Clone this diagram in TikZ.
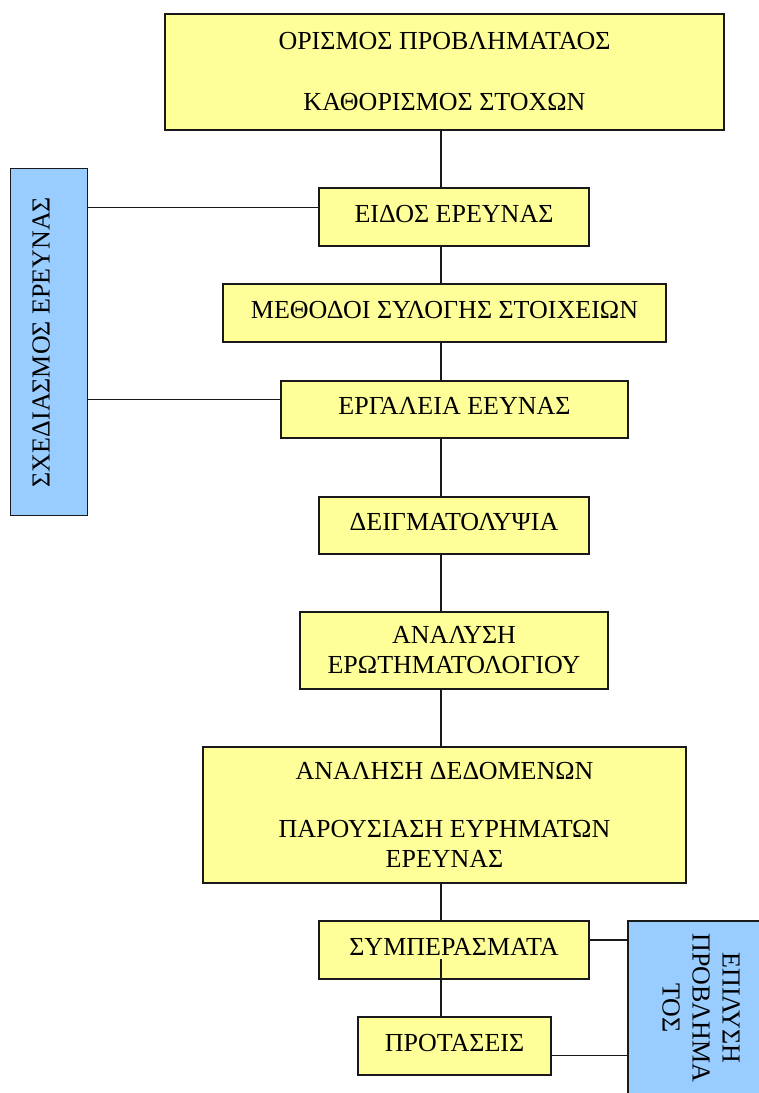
\documentclass[tikz,border=0pt]{standalone}
\usepackage{fontspec}
\setmainfont{Liberation Serif}
\definecolor{yellowfill}{HTML}{FFFF99}
\definecolor{bluefill}{HTML}{99CCFF}
\begin{document}
\begin{tikzpicture}[x=0.5pt,y=-0.5pt,
  box/.style={draw=black!90, line width=0.8pt, inner sep=0pt, align=center,
    font=\fontsize{13}{15}\selectfont},
  ybox/.style={box, fill=yellowfill},
  bbox/.style={box, fill=bluefill},
  oneline/.style={text depth=3.5pt},
  link/.style={draw=black!90, line width=0.7pt}]
\useasboundingbox (0,0) rectangle (759,1093);

\node[ybox, minimum width=279.5pt, minimum height=58pt] (top) at (444.5,72)
  {ΟΡΙΣΜΟΣ ΠΡΟΒΛΗΜΑΤΑΟΣ\\[15.5pt]ΚΑΘΟΡΙΣΜΟΣ ΣΤΟΧΩΝ};
\node[ybox, oneline, minimum width=135pt, minimum height=29pt] (eidos) at (454,217) {ΕΙΔΟΣ ΕΡΕΥΝΑΣ};
\node[ybox, oneline, minimum width=221.5pt, minimum height=29pt] (meth) at (444.5,313) {ΜΕΘΟΔΟΙ ΣΥΛΟΓΗΣ ΣΤΟΙΧΕΙΩΝ};
\node[ybox, oneline, minimum width=173.5pt, minimum height=28.5pt] (erg) at (454.5,409.5) {ΕΡΓΑΛΕΙΑ ΕΕΥΝΑΣ};
\node[ybox, oneline, minimum width=135pt, minimum height=28.5pt] (deig) at (454,525.5) {ΔΕΙΓΜΑΤΟΛΥΨΙΑ};
\node[ybox, minimum width=154pt, minimum height=38.5pt] (anal) at (454,650.5) {ΑΝΑΛΥΣΗ\\ΕΡΩΤΗΜΑΤΟΛΟΓΙΟΥ};
\node[ybox, minimum width=241.5pt, minimum height=68pt] (dat) at (444.5,815)
  {ΑΝΑΛΗΣΗ ΔΕΔΟΜΕΝΩΝ\\[14pt]ΠΑΡΟΥΣΙΑΣΗ ΕΥΡΗΜΑΤΩΝ\\ΕΡΕΥΝΑΣ};
\node[ybox, oneline, minimum width=135pt, minimum height=29pt] (symp) at (454,950) {ΣΥΜΠΕΡΑΣΜΑΤΑ};
\node[ybox, oneline, minimum width=96.5pt, minimum height=29pt] (prot) at (454.5,1046) {ΠΡΟΤΑΣΕΙΣ};

\node[bbox, rotate=90, text depth=8pt, minimum width=173.5pt, minimum height=38.5pt] (sched) at (49,342) {ΣΧΕΔΙΑΣΜΟΣ ΕΡΕΥΝΑΣ};
\node[bbox, rotate=-90, minimum width=87pt, minimum height=73pt] (solve) at (701,1008) {ΕΠΙΛΥΣΗ\\ΠΡΟΒΛΗΜΑ\\ΤΟΣ};

\coordinate (spine) at (441,0);
\coordinate (sympin) at (441,959);
\coordinate (h1) at (0,207.3);
\coordinate (h2) at (0,399.3);
\coordinate (h3) at (0,940);
\coordinate (h4) at (0,1055.7);

\draw[link] (top.south -| spine) -- (eidos.north -| spine);
\draw[link] (eidos.south -| spine) -- (meth.north -| spine);
\draw[link] (meth.south -| spine) -- (erg.north -| spine);
\draw[link] (erg.south -| spine) -- (deig.north -| spine);
\draw[link] (deig.south -| spine) -- (anal.north -| spine);
\draw[link] (anal.south -| spine) -- (dat.north -| spine);
\draw[link] (dat.south -| spine) -- (symp.north -| spine);
\draw[link] (sympin) -- (prot.north -| spine);

\draw[link] (sched.south |- h1) -- (eidos.west |- h1);
\draw[link] (sched.south |- h2) -- (erg.west |- h2);
\draw[link] (symp.east |- h3) -- (solve.south |- h3);
\draw[link] (prot.east |- h4) -- (solve.south |- h4);
\end{tikzpicture}
\end{document}
